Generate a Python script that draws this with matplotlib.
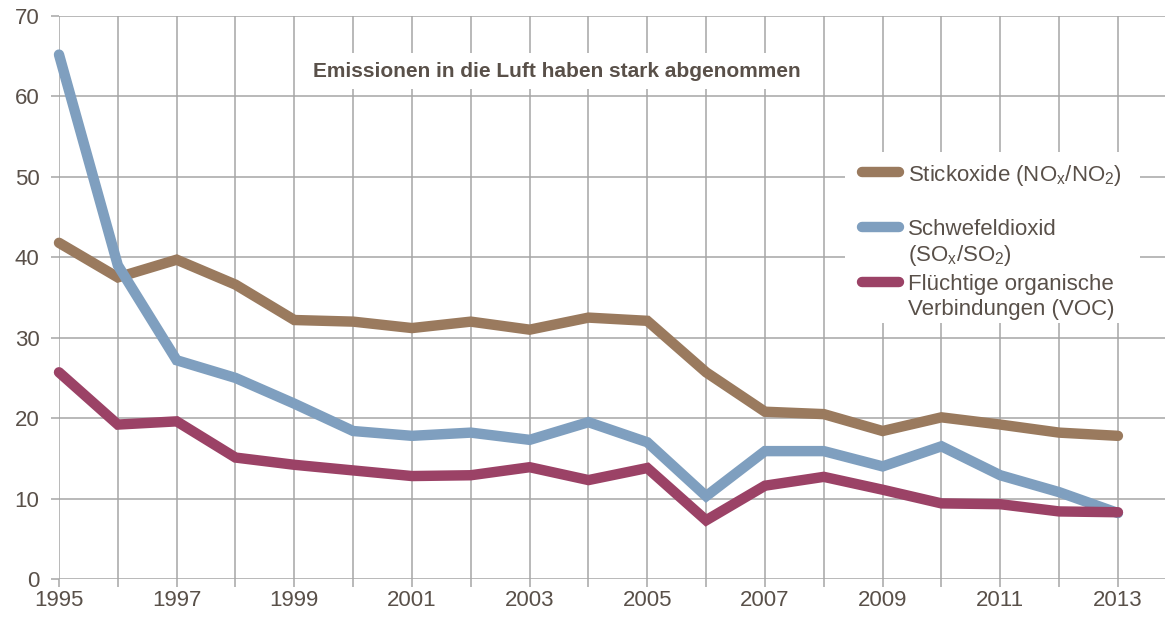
import matplotlib
matplotlib.use("Agg")
import matplotlib.pyplot as plt
from matplotlib.lines import Line2D
from matplotlib.patches import Rectangle

# --------------------
# Data
# --------------------
years = list(range(1995, 2014))
nox = [41.8, 37.5, 39.7, 36.6, 32.2, 32.0, 31.2, 32.0, 31.0, 32.5,
       32.1, 25.7, 20.8, 20.5, 18.4, 20.1, 19.2, 18.2, 17.8]
sox = [65.2, 39.0, 27.2, 25.0, 21.8, 18.4, 17.8, 18.2, 17.3, 19.5,
       17.0, 10.3, 15.9, 15.9, 14.0, 16.5, 12.9, 10.8, 8.2]
voc = [25.7, 19.2, 19.6, 15.1, 14.2, 13.5, 12.8, 12.9, 13.9, 12.3,
       13.8, 7.3, 11.6, 12.7, 11.1, 9.4, 9.3, 8.4, 8.3]

series_labels = [
    ["Stickoxide (NO$_\\mathregular{x}$/NO$_\\mathregular{2}$)"],
    ["Schwefeldioxid", "(SO$_\\mathregular{x}$/SO$_\\mathregular{2}$)"],
    ["Flüchtige organische", "Verbindungen (VOC)"],
]
title = "Emissionen in die Luft haben stark abgenommen"
x_ticks = list(range(1995, 2014, 2))
y_ticks = list(range(0, 71, 10))

# --------------------
# Style
# --------------------
TEXT = "#595049"
GRID = "#a6a6a6"
COLORS = ["#9a7a5e", "#7f9fbf", "#9b4266"]
LW = 7.5

plt.rcParams["font.family"] = ["Liberation Sans", "DejaVu Sans"]
plt.rcParams["mathtext.fontset"] = "custom"
plt.rcParams["mathtext.rm"] = "Liberation Sans"
plt.rcParams["mathtext.default"] = "regular"


def main():
    fig = plt.figure(figsize=(11.68, 6.19), dpi=100)
    ax = fig.add_axes([59 / 1168, 1 - 579 / 619, 1106 / 1168, 563 / 619])

    # grid on every year / every 10
    ax.set_xlim(1995, 2013.8)
    ax.set_ylim(0, 70)
    ax.set_xticks(x_ticks)
    ax.set_xticks(years, minor=True)
    ax.set_yticks(y_ticks)
    ax.grid(True, which="both", color=GRID, lw=1.1)
    ax.set_axisbelow(True)
    for s in ax.spines.values():
        s.set_visible(False)
    ax.tick_params(which="both", length=6, width=1.1, color=GRID,
                   labelcolor=TEXT, labelsize=16, pad=2)
    ax.tick_params(axis="y", pad=8)

    for vals, c in zip([nox, sox, voc], COLORS):
        ax.plot(years, vals, color=c, lw=LW, solid_capstyle="round",
                solid_joinstyle="miter", zorder=3, clip_on=False)

    # title with white box
    ax.text(0.450, 0.902, title, transform=ax.transAxes, ha="center",
            va="center", fontsize=15, fontweight="bold", color=TEXT,
            bbox=dict(facecolor="white", edgecolor="none", pad=6), zorder=2)

    # legend (manual, white background)
    ax.add_patch(Rectangle((786 / 1106, (579 - 323) / 563), 295 / 1106,
                           171 / 563, transform=ax.transAxes,
                           facecolor="white", edgecolor="none", zorder=2))
    handle_y = [172, 227, 282]
    x0, x1, xt = 803 / 1106, 840 / 1106, 849 / 1106
    line_gap = 25
    for lines, c, hy in zip(series_labels, COLORS, handle_y):
        fy = (579 - hy) / 563
        ax.add_line(Line2D([x0, x1], [fy, fy], transform=ax.transAxes,
                           color=c, lw=LW, solid_capstyle="round", zorder=4))
        for i, t in enumerate(lines):
            ty = (579 - hy - i * line_gap) / 563
            ax.text(xt, ty, t, transform=ax.transAxes, ha="left",
                    va="center_baseline", fontsize=16, color=TEXT, zorder=4)

    fig.savefig("out.png", dpi=100, facecolor="white")
    plt.close(fig)


if __name__ == "__main__":
    main()
